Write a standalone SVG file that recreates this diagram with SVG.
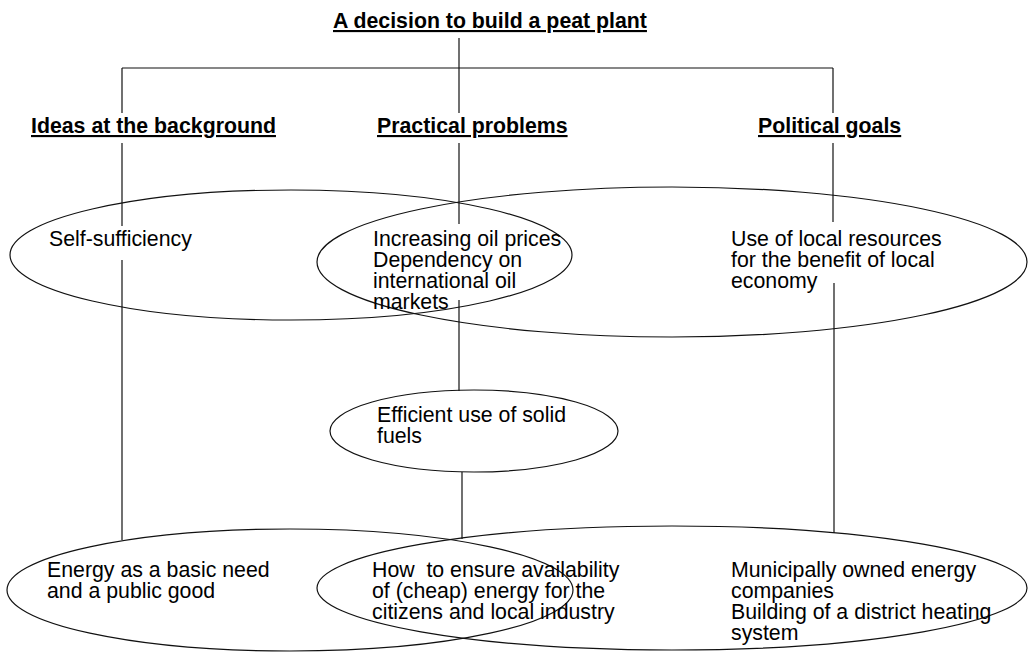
<svg xmlns="http://www.w3.org/2000/svg" width="1029" height="652" viewBox="0 0 1029 652">
  <style>
    text { font-family: "Liberation Sans", Arial, sans-serif; font-size: 21.3px; fill: #000; }
    .head { font-weight: bold; text-decoration: underline; }
    .set { fill: none; stroke: #111; stroke-width: 1.2; }
    .link { fill: none; stroke: #111; stroke-width: 1.2; }
  </style>

  <!-- connectors: tree from the decision down through the three columns -->
  <g id="connectors" class="link">
    <path d="M459 38V113"/>
    <path d="M122 68H833"/>
    <path d="M122 68V113"/>
    <path d="M833 68V113"/>
    <path d="M122 143V226"/>
    <path d="M122 260V540"/>
    <path d="M459 143V224"/>
    <path d="M459 300V391"/>
    <path d="M462 472V539"/>
    <path d="M833 143V222"/>
    <path d="M834 283V533"/>
  </g>

  <!-- top level -->
  <g id="decision">
    <text class="head" x="333" y="28">A decision to build a peat plant</text>
  </g>

  <!-- column headings -->
  <g id="ideas">
    <text class="head" x="31" y="133">Ideas at the background</text>
  </g>
  <g id="practical">
    <text class="head" x="377" y="133">Practical problems</text>
  </g>
  <g id="political">
    <text class="head" x="758" y="133">Political goals</text>
  </g>

  <!-- upper row: two overlapping sets -->
  <g id="self-sufficiency">
    <ellipse class="set" cx="291" cy="255" rx="281" ry="65"/>
    <text x="49" y="246">Self-sufficiency</text>
  </g>
  <g id="local-resources">
    <ellipse class="set" cx="672" cy="262" rx="355" ry="75"/>
    <text x="731" y="246">Use of local resources</text>
    <text x="731" y="267">for the benefit of local</text>
    <text x="731" y="288">economy</text>
  </g>
  <g id="oil-prices">
    <text x="373" y="246">Increasing oil prices</text>
    <text x="373" y="267">Dependency on</text>
    <text x="373" y="288">international oil</text>
    <text x="373" y="309">markets</text>
  </g>

  <!-- middle -->
  <g id="solid-fuels">
    <ellipse class="set" cx="474" cy="431" rx="144" ry="41"/>
    <text x="377" y="422">Efficient use of solid</text>
    <text x="377" y="443">fuels</text>
  </g>

  <!-- lower row: two overlapping sets -->
  <g id="basic-need">
    <ellipse class="set" cx="290" cy="590" rx="283" ry="61"/>
    <text x="47" y="577">Energy as a basic need</text>
    <text x="47" y="598">and a public good</text>
  </g>
  <g id="municipal">
    <ellipse class="set" cx="672" cy="588" rx="355" ry="62"/>
    <text x="731" y="577">Municipally owned energy</text>
    <text x="731" y="598">companies</text>
    <text x="731" y="619">Building of a district heating</text>
    <text x="731" y="640">system</text>
  </g>
  <g id="availability">
    <text x="372" y="577" style="white-space:pre">How  to ensure availability</text>
    <text x="372" y="598">of (cheap) energy for the</text>
    <text x="372" y="619">citizens and local industry</text>
  </g>
</svg>
